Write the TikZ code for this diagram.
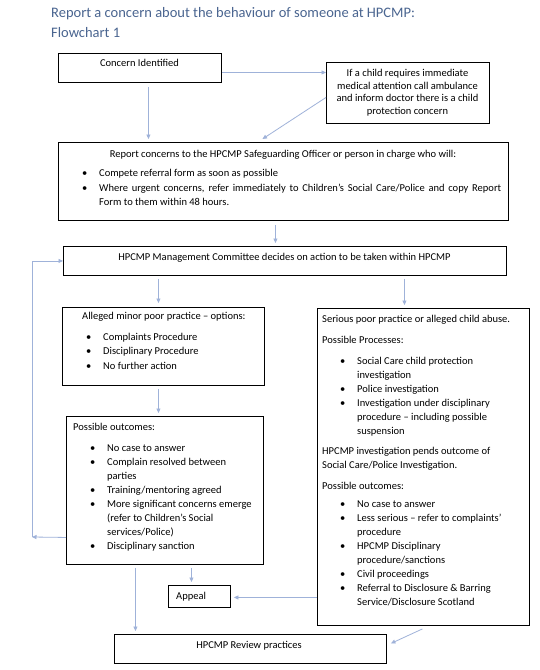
\documentclass[tikz,border=0pt]{standalone}
\usepackage{fontspec}
\setmainfont{Carlito}
\usetikzlibrary{arrows.meta}
\definecolor{arrc}{HTML}{9FB2D9}
\definecolor{titlec}{HTML}{4A6590}
\tikzset{
  box/.style={draw=black,line width=0.9pt,inner sep=0pt,anchor=north west},
  txt/.style={inner sep=0pt,anchor=base west,font=\fontsize{10.5}{14}\selectfont},
  ctxt/.style={inner sep=0pt,anchor=base,font=\fontsize{10.5}{14}\selectfont},
  ttl/.style={inner sep=0pt,anchor=base west,text=titlec,font=\fontsize{14.5}{20}\selectfont},
  arr/.style={draw=arrc,line width=0.8pt,-{Triangle[length=4.5pt,width=4pt]}},
}
\newcommand\bul{\makebox[17pt][l]{\textbullet}}
\newcommand\ind{\hspace*{17pt}}
\begin{document}
\begin{tikzpicture}[x=1pt,y=-1pt]
\useasboundingbox[fill=white] (0,0) rectangle (540,670);

% title
\node[ttl] (title1) at (51,17) {Report a concern about the behaviour of someone at HPCMP:};
\node[ttl] (title2) at (51,37) {Flowchart 1};

% boxes
\node[box,minimum width=163pt,minimum height=29pt] (concern) at (58,53) {};
\node[box,minimum width=163pt,minimum height=61pt] (child) at (326,62) {};
\node[box,minimum width=450pt,minimum height=78pt] (report) at (58,142) {};
\node[box,minimum width=443pt,minimum height=29pt] (mgmt) at (63,246) {};
\node[box,minimum width=202pt,minimum height=78pt] (minor) at (62,307) {};
\node[box,minimum width=197pt,minimum height=148pt] (outc) at (66,416) {};
\node[box,minimum width=62pt,minimum height=22pt] (appeal) at (168,585) {};
\node[box,minimum width=272pt,minimum height=29pt] (review) at (114,634) {};
\node[box,minimum width=212pt,minimum height=317pt] (serious) at (317,308) {};

% texts
\node[ctxt] (tconcern) at (139.5,66.5) {Concern Identified};
\node[ctxt] (tchild) at (407.5,76.5) {\parbox[t]{160pt}{\fontsize{10.5}{12.5}\selectfont\centering
  If a child requires immediate\\ medical attention call ambulance\\ and inform doctor there is a child\\ protection concern}};
\node[ctxt] (treporth) at (283,157.5) {Report concerns to the HPCMP Safeguarding Officer or person in charge who will:};
\node[txt] (treportl) at (82,176.5) {\parbox[t]{430pt}{\fontsize{10.5}{14.5}\selectfont
  \bul Compete referral form as soon as possible\\
  \bul\makebox[402pt][s]{Where urgent concerns, refer immediately to Children’s Social Care/Police and copy Report}\\
  \ind Form to them within 48 hours.}};
\node[ctxt] (tmgmt) at (284.5,260.5) {HPCMP Management Committee decides on action to be taken within HPCMP};
\node[txt] (tminorh) at (82,319.5) {Alleged minor poor practice – options:};
\node[txt] (tminorl) at (86,340) {\parbox[t]{170pt}{\fontsize{10.5}{14.5}\selectfont
  \bul Complaints Procedure\\
  \bul Disciplinary Procedure\\
  \bul No further action}};
\node[txt] (toutch) at (73,430) {Possible outcomes:};
\node[txt] (toutcl) at (90,451) {\parbox[t]{170pt}{\fontsize{10.5}{14.1}\selectfont
  \bul No case to answer\\
  \bul Complain resolved between\\
  \ind parties\\
  \bul Training/mentoring agreed\\
  \bul More significant concerns emerge\\
  \ind (refer to Children’s Social\\
  \ind services/Police)\\
  \bul Disciplinary sanction}};
\node[txt] (tappeal) at (176,599.5) {Appeal};
\node[ctxt] (treview) at (249,648.5) {HPCMP Review practices};
\node[txt] (tser1) at (322,322) {Serious poor practice or alleged child abuse.};
\node[txt] (tser2) at (322,343) {Possible Processes:};
\node[txt] (tser3) at (340,364) {\parbox[t]{185pt}{\fontsize{10.5}{14}\selectfont
  \bul Social Care child protection\\
  \ind investigation\\
  \bul Police investigation\\
  \bul Investigation under disciplinary\\
  \ind procedure – including possible\\
  \ind suspension}};
\node[txt] (tser4) at (322,454) {\parbox[t]{200pt}{\fontsize{10.5}{14}\selectfont
  HPCMP investigation pends outcome of\\ Social Care/Police Investigation.}};
\node[txt] (tser5) at (322,489) {Possible outcomes:};
\node[txt] (tser6) at (340,507) {\parbox[t]{185pt}{\fontsize{10.5}{14}\selectfont
  \bul No case to answer\\
  \bul Less serious – refer to complaints’\\
  \ind procedure\\
  \bul HPCMP Disciplinary\\
  \ind procedure/sanctions\\
  \bul Civil proceedings\\
  \bul Referral to Disclosure \& Barring\\
  \ind Service/Disclosure Scotland}};

% connectors
\coordinate (c1) at ([yshift=-4.5pt]concern.east);
\draw[arr] (c1) -- (c1 -| child.west);
\coordinate (c2) at ([xshift=8.5pt]concern.south);
\draw[arr,shorten <=4pt,shorten >=3pt] (c2) -- (c2 |- report.north);
\draw[arr] ([yshift=-4.5pt]child.west) -- ([xshift=-21pt,yshift=3pt]report.north);
\coordinate (c3) at ([xshift=-8pt]report.south);
\draw[arr,shorten <=4pt,shorten >=3pt] (c3) -- (c3 |- mgmt.north);
\coordinate (c4) at ([xshift=-126.5pt]mgmt.south);
\draw[arr,shorten <=3pt,shorten >=4pt] (c4) -- (c4 |- minor.north);
\coordinate (c5) at ([xshift=119.5pt]mgmt.south);
\draw[arr,shorten <=3pt,shorten >=3pt] (c5) -- (c5 |- serious.north);
\coordinate (c6) at ([xshift=-5pt]minor.south);
\draw[arr,shorten <=3pt,shorten >=3pt] (c6) -- (c6 |- outc.north);
\coordinate (c7) at ([xshift=26.5pt]outc.south);
\draw[arr,shorten <=3pt,shorten >=3pt] (c7) -- (c7 |- appeal.north);
\coordinate (c8) at ([xshift=-29.5pt]outc.south);
\draw[arr,shorten <=3pt,shorten >=3pt] (c8) -- (c8 |- review.north);
\coordinate (c9) at ([yshift=-130.5pt]serious.west);
\draw[arr,shorten >=3pt] (c9) -- (c9 -| appeal.east);
\draw[arr] ([xshift=-1pt,yshift=-3pt]serious.south) -- ([xshift=4pt,yshift=5.5pt]review.east);
\coordinate (lc1) at ([yshift=-47pt]outc.west);
\coordinate (lc2) at (32,537);
\draw[arr] (lc1) -- (lc2);
\draw[arr] (lc2) |- (mgmt.west);
\end{tikzpicture}
\end{document}
